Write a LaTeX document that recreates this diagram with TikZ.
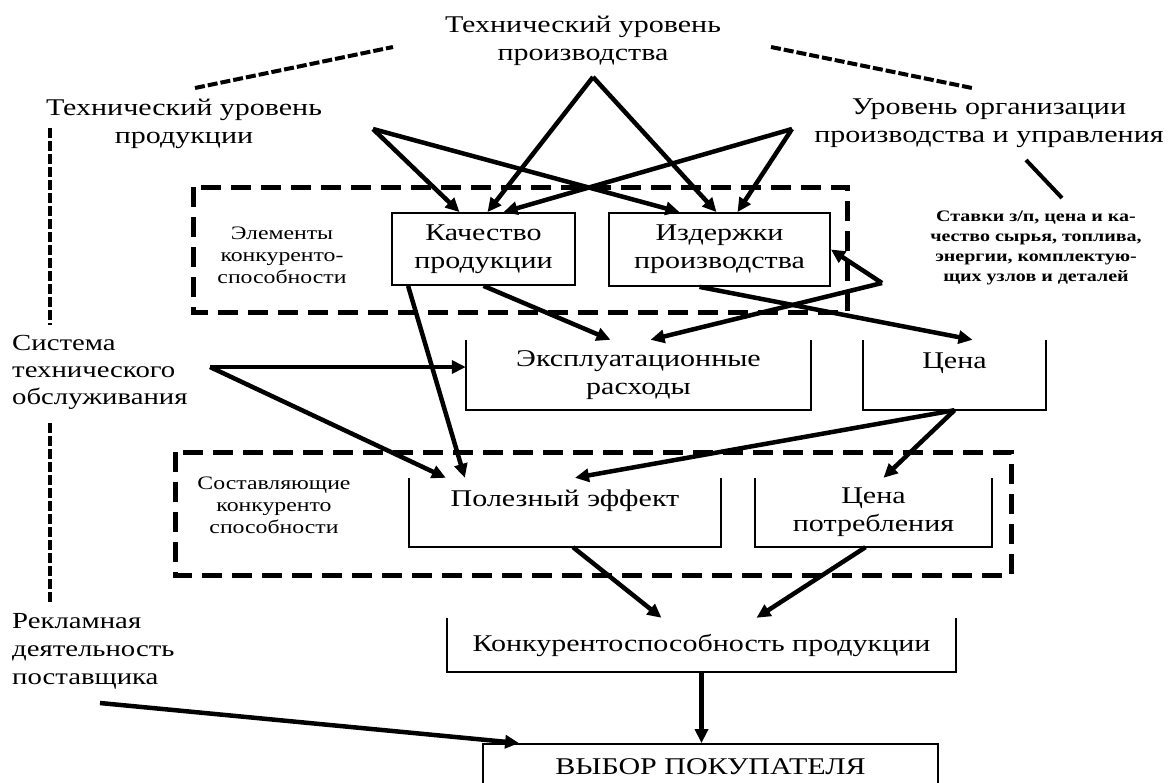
\documentclass[tikz,border=0pt]{standalone}
\usepackage{fontspec}
\setmainfont{Liberation Serif}[FakeStretch=1.25]
\usetikzlibrary{arrows.meta}

\begin{document}
\begin{tikzpicture}[x=1pt, y=-1pt,
    txt/.style={align=center, inner sep=0pt, font=\fontsize{24}{28}\selectfont},
    melk/.style={align=center, inner sep=0pt, font=\fontsize{19}{22}\selectfont},
    box/.style={txt, draw, line width=1.8pt},
    strel/.style={line width=4.5pt, -{Triangle[length=14pt, width=13pt]}},
    ramka/.style={line width=5pt, dash pattern=on 20pt off 10pt},
    punktir/.style={line width=4pt, dash pattern=on 10pt off 3pt}]
    \useasboundingbox (0,0) rectangle (1169,782);

    % уровни
    \node[txt] (title) at (583,41) {Технический уровень\\производства};
    \node[txt] (techprod) at (184,124) {Технический уровень\\продукции};
    \node[txt] (orglevel) at (989,123) {Уровень организации\\производства и управления};
    \node[txt, font=\bfseries\fontsize{16}{20}\selectfont] (rates) at (1036,248) {Ставки з/п, цена и ка-\\чество сырья, топлива,\\энергии, комплектую-\\щих узлов и деталей};

    % рамки
    \draw[ramka] (193,187) rectangle (847,312);
    \draw[ramka] (175,452) rectangle (1011,575);
    \node[melk] (elem) at (282,255) {Элементы\\конкуренто-\\способности};
    \node[melk] (sost) at (274,505) {Составляющие\\конкуренто\\способности};

    % блоки
    \node[box, minimum width=183pt, minimum height=72pt] (qual) at (483.5,249) {Качество\\продукции};
    \node[box, minimum width=221pt, minimum height=73pt] (cost) at (719.5,249.5) {Издержки\\производства};
    \node[txt, minimum width=345pt, minimum height=70pt] (expl) at (638.5,375) {Эксплуатационные\\расходы};
    \node[txt, minimum width=183pt, minimum height=70pt] (price) at (954.5,375) {Цена\\~};
    \node[txt, minimum width=312pt, minimum height=69pt] (effect) at (565,512.5) {Полезный эффект\\~};
    \node[txt, minimum width=237pt, minimum height=69pt] (cprice) at (873.5,512.5) {Цена\\потребления};
    \node[txt, minimum width=509pt, minimum height=54pt] (compet) at (701.5,645) {Конкурентоспособность продукции};
    \node[box, minimum width=455pt, minimum height=46pt] (choice) at (710.5,767) {ВЫБОР ПОКУПАТЕЛЯ};
    \foreach \b in {expl,price,effect,cprice,compet}
        \draw[line width=1.8pt] (\b.north west) |- (\b.south east) -- (\b.north east);

    % боковые надписи
    \node[txt, anchor=west, align=left, font=\fontsize{23}{27}\selectfont] (service) at (12,372) {Система\\технического\\обслуживания};
    \node[txt, anchor=west, align=left, font=\fontsize{23}{28}\selectfont] (advert) at (12,651) {Рекламная\\деятельность\\поставщика};

    % точки
    \coordinate (ptitle) at (593,77);
    \coordinate (pleft) at (373,129);
    \coordinate (pright) at (792,129);
    \coordinate (prates) at (882,283);
    \coordinate (pserv) at (210,367);
    \coordinate (padv) at (100,703);

    % стрелки
    \draw[strel] (ptitle) -- ([xshift=4pt]qual.north);
    \draw[strel] (ptitle) -- ([xshift=-3pt]cost.north);
    \draw[strel] (pleft) -- ([xshift=-24pt]qual.north);
    \draw[strel] (pleft) -- ([xshift=-40pt]cost.north);
    \draw[strel] (pright) -- ([xshift=20pt]qual.north);
    \draw[strel] (pright) -- ([xshift=18pt]cost.north);
    \draw[strel] (prates) -- (cost.east);
    \draw[strel] (prates) -- ([xshift=12pt]expl.north);
    \draw[strel] (qual.south) -- ([xshift=-28pt]expl.north);
    \draw[strel] ([xshift=17pt]qual.south west) -- ([xshift=56pt]effect.north west);
    \draw[strel] ([xshift=-20pt]cost.south) -- ([xshift=18pt]price.north);
    \draw[strel] (pserv) -- ([yshift=8pt]expl.west);
    \draw[strel] (pserv) -- ([xshift=37pt]effect.north west);
    \draw[strel] (price.south) -- ([xshift=10pt]effect.north);
    \draw[strel] (price.south) -- ([xshift=10pt]cprice.north);
    \draw[strel] ([xshift=8pt]effect.south) -- ([xshift=-40pt]compet.north);
    \draw[strel] ([xshift=-8pt]cprice.south) -- ([xshift=55pt]compet.north);
    \draw[strel] (compet.south) -- (compet.south |- choice.north);
    \draw[strel] (padv) -- ([xshift=37pt]choice.north west);

    % пунктиры
    \draw[punktir] (195,88) -- (393,47);
    \draw[punktir] (771,47) -- (972,88);
    \draw[punktir] (50,128) -- (50,325);
    \draw[punktir] (50,423) -- (50,602);
    \draw[line width=4pt] (1026,160) -- (1062,198);
\end{tikzpicture}
\end{document}
